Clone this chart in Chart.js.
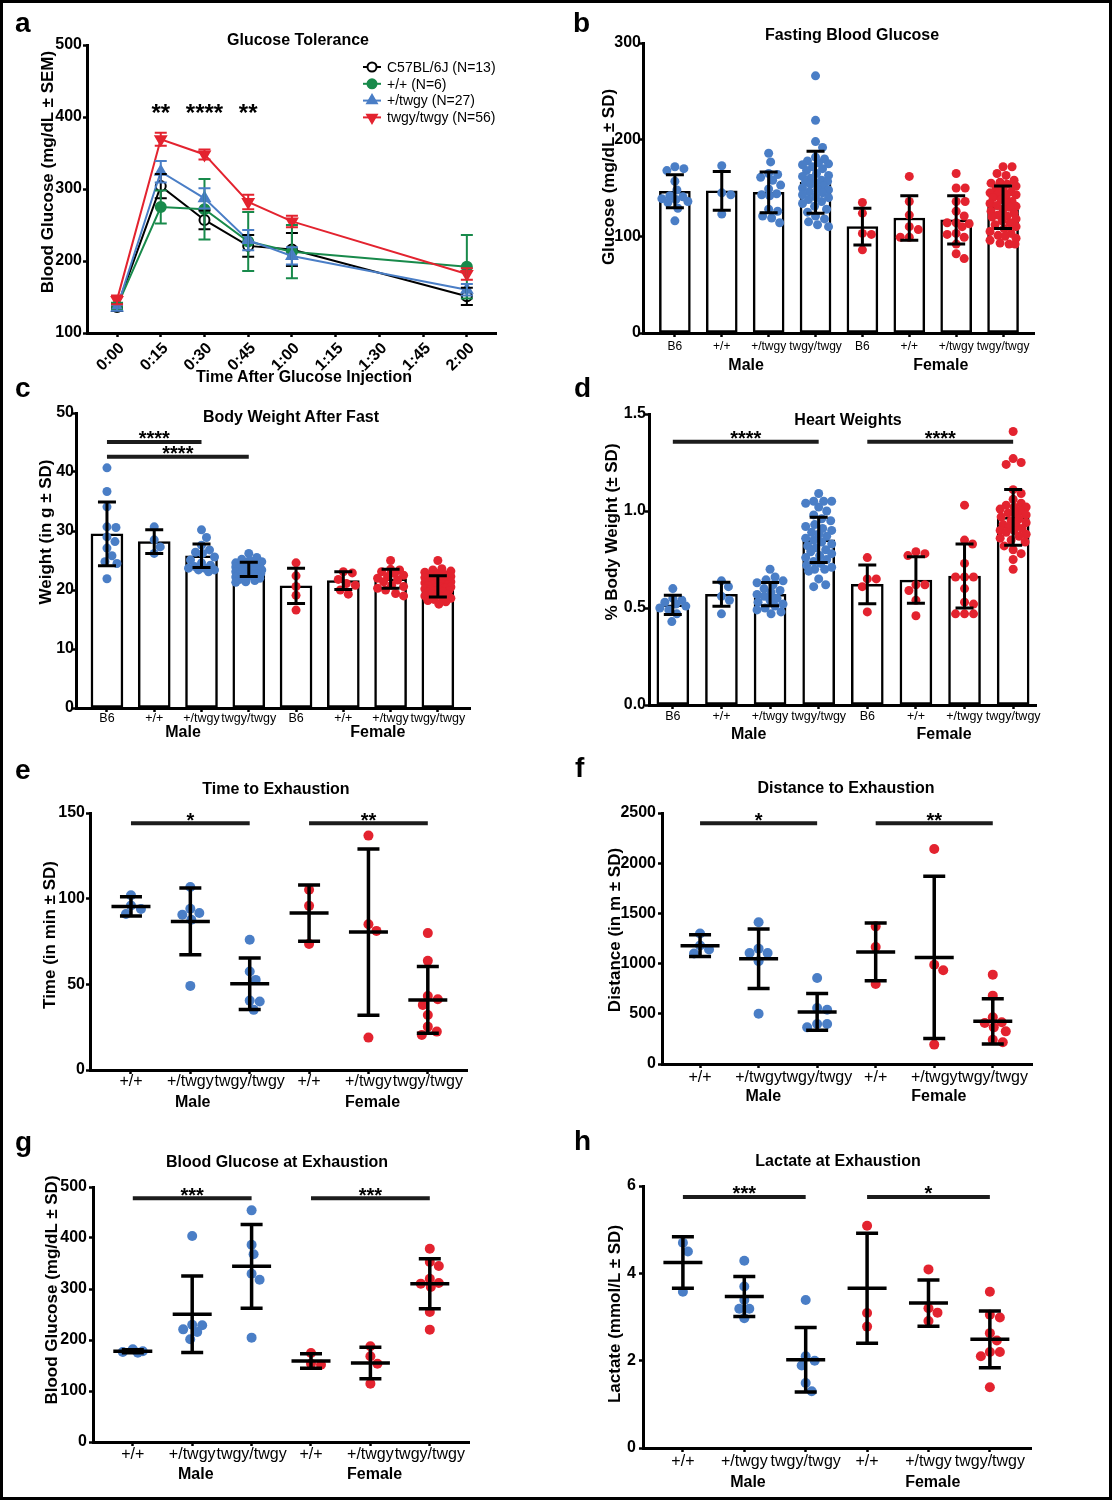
<!DOCTYPE html>
<html>
<head>
<meta charset="utf-8">
<title>twgy phenotype figure</title>
<script src="https://cdn.jsdelivr.net/npm/chart.js@4.4.1/dist/chart.umd.min.js"></script>
<style>
  html, body { margin: 0; padding: 0; background: #fff; }
  #fig { position: relative; width: 1112px; height: 1500px; background: #fff; overflow: hidden;
         font-family: "Liberation Sans", Arial, Helvetica, sans-serif; color: #000; }
  #fig canvas { position: absolute; }
  .lbl { position: absolute; white-space: nowrap; font-weight: bold; line-height: 1; transform: translate(-50%, -50%); }
  .rot { transform: translate(-50%, -50%) rotate(-90deg); }
  .letter { position: absolute; font-weight: bold; font-size: 28px; line-height: 28px; }
  #frame { position: absolute; left: 0; top: 0; width: 1112px; height: 1500px; box-sizing: border-box;
           border: 3px solid #000; pointer-events: none; }
</style>
</head>
<body>
<div id="fig"><div id="frame"></div></div>
<script>
// ---------- data ----------
// a: glucose tolerance (mean +/- SEM)
const gttTimes = [0, 15, 30, 45, 60, 120];
const gttTickVals = [0, 15, 30, 45, 60, 75, 90, 105, 120];
const gttTickLabels = ['0:00', '0:15', '0:30', '0:45', '1:00', '1:15', '1:30', '1:45', '2:00'];
const gttLabels = ['C57BL/6J (N=13)', '+/+ (N=6)', '+/twgy (N=27)', 'twgy/twgy (N=56)'];
const gttB6 = [136, 304, 257, 221, 216, 151];
const gttB6Sem = [5, 17, 13, 15, 23, 12];
const gttWT = [137, 275, 272, 227, 213, 192];
const gttWTSem = [5, 23, 42, 41, 37, 44];
const gttHet = [135, 324, 287, 229, 207, 160];
const gttHetSem = [4, 15, 14, 14, 12, 8];
const gttHom = [146, 369, 348, 282, 255, 182];
const gttHomSem = [6, 9, 7, 10, 8, 8];
const gttStars = [{ from: 15, to: 15, text: '**' }, { from: 30, to: 30, text: '****' }, { from: 45, to: 45, text: '**' }];

const barCats = ['B6', '+/+', '+/twgy', 'twgy/twgy', 'B6', '+/+', '+/twgy', 'twgy/twgy'];
const runCats = ['+/+', '+/twgy', 'twgy/twgy', '+/+', '+/twgy', 'twgy/twgy'];
const sexLabels = ['Male', 'Female'];

// b: fasting blood glucose
const fbgMean = [146.6, 147, 145.5, 156, 110, 119, 117, 130];
const fbgSD = [17, 20, 21, 32, 19, 23, 25, 22];
const fbgPts = [
  [172, 170, 168, 157, 148, 142, 141, 139, 138, 136, 135, 129, 116],
  [173, 145, 143, 123],
  [186, 177, 165, 164, 161, 158, 153, 149, 144, 143, 142, 128, 126, 121, 119, 114],
  [266, 220, 198, 192, 182, 180, 178, 176, 175, 174, 172, 170, 168, 165, 163, 162, 160, 158, 157, 156, 155,
   154, 152, 150, 149, 148, 146, 145, 143, 141, 140, 138, 136, 134, 131, 128, 125, 121, 118, 115, 112, 110],
  [135, 124, 103, 102, 86],
  [162, 136, 122, 110, 107, 99, 99],
  [165, 150, 150, 136, 136, 126, 121, 114, 114, 113, 110, 103, 102, 99, 92, 82, 77],
  [172, 172, 165, 163, 158, 156, 155, 154, 152, 150, 148, 146, 145, 144, 143, 142, 140, 138, 136, 135, 134,
   132, 131, 130, 128, 126, 124, 122, 121, 120, 118, 116, 114, 112, 110, 108, 105, 103, 101, 100, 98, 96, 93, 92, 92]
];

// c: body weight after fast
const bwMean = [29.5, 28.2, 25.8, 23.5, 20.7, 21.6, 21.9, 20.6];
const bwSD = [5.4, 2.0, 2.0, 1.2, 3.0, 1.5, 1.6, 1.8];
const bwPts = [
  [40.7, 36.7, 34.1, 30.7, 30.6, 29.0, 28.2, 27.1, 25.8, 24.8, 24.5, 21.9],
  [30.7, 28.5, 27.3, 26.2],
  [30.2, 28.9, 27.6, 26.8, 26.4, 26.2, 25.6, 25.1, 24.6, 24.2, 24.0, 23.7, 23.7, 23.4, 23.4, 23.1],
  [26.2, 25.5, 25.2, 25.0, 24.8, 24.6, 24.5, 24.4, 24.2, 24.1, 24.0, 23.9, 23.8, 23.7, 23.6, 23.5, 23.5, 23.4,
   23.3, 23.2, 23.1, 23.0, 23.0, 22.9, 22.8, 22.7, 22.6, 22.5, 22.4, 22.3, 22.2, 22.0, 21.8, 21.6, 21.4, 21.3],
  [24.6, 22.4, 20.6, 19.1, 16.6],
  [23.1, 22.9, 21.8, 21.1, 20.8, 20.0, 19.3],
  [25.0, 23.5, 23.4, 23.1, 22.8, 22.5, 22.3, 22.0, 21.7, 21.4, 20.8, 20.6, 20.3, 20.0, 19.4, 19.0],
  [25.0, 23.6, 23.4, 23.2, 23.0, 22.8, 22.6, 22.5, 22.3, 22.1, 22.0, 21.8, 21.7, 21.5, 21.4, 21.2, 21.1, 21.0,
   20.9, 20.8, 20.7, 20.6, 20.5, 20.4, 20.3, 20.2, 20.1, 20.0, 19.9, 19.8, 19.7, 19.6, 19.4, 19.3, 19.2, 19.0,
   18.8, 18.6, 18.4, 18.2, 18.0, 17.6]
];
const bwSig = [{ from: 0, to: 2, text: '****' }, { from: 0, to: 3, text: '****' }];

// d: heart weight (% body weight)
const hwMean = [0.516, 0.571, 0.571, 0.851, 0.622, 0.644, 0.665, 0.967];
const hwSD = [0.05, 0.062, 0.06, 0.117, 0.10, 0.12, 0.165, 0.144];
const hwPts = [
  [0.60, 0.55, 0.54, 0.53, 0.52, 0.51, 0.50, 0.49, 0.47, 0.43],
  [0.64, 0.61, 0.56, 0.54, 0.47],
  [0.70, 0.66, 0.645, 0.64, 0.63, 0.62, 0.60, 0.59, 0.58, 0.57, 0.56, 0.55, 0.54, 0.53, 0.52, 0.51, 0.50, 0.49, 0.48, 0.47],
  [1.09, 1.05, 1.05, 1.05, 1.04, 1.02, 1.00, 0.98, 0.96, 0.95, 0.93, 0.92, 0.91, 0.90, 0.89, 0.88, 0.87, 0.86,
   0.85, 0.84, 0.83, 0.82, 0.81, 0.80, 0.79, 0.78, 0.77, 0.76, 0.75, 0.74, 0.73, 0.72, 0.71, 0.70, 0.70, 0.69,
   0.65, 0.62, 0.61],
  [0.76, 0.65, 0.65, 0.61, 0.48],
  [0.79, 0.78, 0.77, 0.62, 0.62, 0.59, 0.54, 0.46],
  [1.03, 0.85, 0.83, 0.73, 0.66, 0.66, 0.66, 0.60, 0.53, 0.52, 0.47, 0.47, 0.47],
  [1.41, 1.27, 1.25, 1.24, 1.11, 1.09, 1.06, 1.04, 1.03, 1.02, 1.02, 1.01, 1.00, 0.99, 0.99, 0.98, 0.97, 0.96,
   0.95, 0.94, 0.93, 0.93, 0.92, 0.91, 0.90, 0.90, 0.89, 0.88, 0.87, 0.86, 0.85, 0.84, 0.82, 0.80, 0.78, 0.75, 0.70]
];
const hwSig = [{ from: 0, to: 3, text: '****' }, { from: 4, to: 7, text: '****' }];

// e: time to exhaustion
const tteMean = [95.5, 86.7, 50.3, 91.6, 80.5, 40.9];
const tteSD = [5.6, 19.5, 15, 16.4, 48.5, 19.5];
const ttePts = [
  [102, 96, 94, 91],
  [106.8, 94.1, 91.6, 90.6, 87.7, 49.1],
  [76, 57.5, 52.6, 40.5, 40.0, 35.1],
  [105.2, 95.8, 73.6],
  [136.8, 85.1, 81.2, 18.9],
  [79.9, 63.7, 43.2, 41.3, 38, 32.1, 25.3, 22.4, 20.5]
];
const tteSig = [{ from: 0, to: 2, text: '*' }, { from: 3, to: 5, text: '**' }];

// f: distance to exhaustion
const dteMean = [1179, 1049, 518, 1116, 1062, 425];
const dteSD = [109, 296, 183, 288, 807, 226];
const dtePts = [
  [1300, 1180, 1140, 1100],
  [1411, 1149, 1106, 1106, 1023, 501],
  [857, 558, 541, 398, 398, 365],
  [1371, 1165, 797],
  [2141, 989, 933, 193],
  [890, 681, 465, 415, 408, 365, 325, 242, 216]
];
const dteSig = [{ from: 0, to: 2, text: '*' }, { from: 3, to: 5, text: '**' }];

// g: blood glucose at exhaustion
const bgeMean = [177.8, 250.3, 344.4, 158.8, 154.9, 310.5];
const bgeSD = [3, 75, 82, 14.4, 31, 49];
const bgePts = [
  [181.7, 178, 176.5, 175.2],
  [403.9, 230, 228.8, 220.9, 215.7, 201.3],
  [454.2, 386.9, 368, 330, 318.3, 204.6],
  [174.5, 153.6, 151.6],
  [187.6, 168, 153.6, 114.4],
  [379, 353, 345, 320, 311.8, 310.5, 304, 254.9, 220.3]
];
const bgeSig = [{ from: 0, to: 2, text: '***' }, { from: 3, to: 5, text: '***' }];

// h: lactate at exhaustion
const lacMean = [4.25, 3.47, 2.02, 3.66, 3.32, 2.49];
const lacSD = [0.59, 0.46, 0.74, 1.26, 0.53, 0.65];
const lacPts = [
  [4.70, 4.50, 3.58],
  [4.29, 3.70, 3.39, 3.19, 3.19, 2.97],
  [3.39, 2.10, 2.00, 1.89, 1.49, 1.30],
  [5.09, 3.09, 2.78],
  [4.09, 3.20, 3.10, 2.91],
  [3.58, 3.05, 2.99, 2.63, 2.46, 2.20, 2.20, 2.10, 1.39]
];
const lacSig = [{ from: 0, to: 2, text: '***' }, { from: 3, to: 5, text: '*' }];

// ---------- setup ----------
const FONT = '"Liberation Sans", Arial, Helvetica, sans-serif';
const BLUE = '#4a7ec6', RED = '#e3232f', GREEN = '#188a4b';

Chart.defaults.font.family = FONT;
Chart.defaults.color = '#000';
Chart.defaults.animation = false;
Chart.defaults.responsive = false;
Chart.defaults.maintainAspectRatio = false;
Chart.defaults.events = [];
Chart.defaults.plugins.legend.display = false;
Chart.defaults.plugins.tooltip.enabled = false;

const fig = document.getElementById('fig');

const drawPoint = (Chart.helpers && Chart.helpers.drawPoint) || function (ctx, o, x, y) {
  ctx.beginPath();
  if (o.pointStyle === 'triangle') {
    const s = o.rotation ? -1 : 1, r = o.radius;
    ctx.moveTo(x, y - s * r);
    ctx.lineTo(x + r * 0.866, y + s * r / 2);
    ctx.lineTo(x - r * 0.866, y + s * r / 2);
    ctx.closePath();
  } else {
    ctx.arc(x, y, o.radius, 0, Math.PI * 2);
  }
  ctx.fill();
  if (o.borderWidth > 0) ctx.stroke();
};

// error bars for any dataset carrying an errorBars array
Chart.register({
  id: 'errorBars',
  afterDatasetsDraw(chart) {
    const ctx = chart.ctx, ys = chart.scales.y;
    chart.data.datasets.forEach((ds, i) => {
      if (!ds.errorBars) return;
      const meta = chart.getDatasetMeta(i);
      ctx.save();
      ctx.strokeStyle = ds.errorColor;
      ctx.lineWidth = ds.errorWidth;
      meta.data.forEach((el, j) => {
        const v = ds.data[j].y, e = ds.errorBars[j];
        const top = ys.getPixelForValue(v + e), bot = ys.getPixelForValue(v - e);
        const w = ds.errorCap / 2;
        ctx.beginPath();
        ctx.moveTo(el.x, top); ctx.lineTo(el.x, bot);
        ctx.moveTo(el.x - w, top); ctx.lineTo(el.x + w, top);
        ctx.moveTo(el.x - w, bot); ctx.lineTo(el.x + w, bot);
        ctx.stroke();
      });
      ctx.restore();
    });
  }
});

function sigPlugin(items, levels, size) {
  return {
    id: 'sigBars',
    afterDatasetsDraw(chart) {
      const ctx = chart.ctx, xs = chart.scales.x, ys = chart.scales.y;
      ctx.save();
      ctx.fillStyle = '#000';
      ctx.strokeStyle = '#1c1c1c';
      ctx.lineWidth = 4;
      ctx.font = 'bold ' + size + 'px ' + FONT;
      ctx.textAlign = 'center';
      ctx.textBaseline = 'alphabetic';
      items.forEach((s, k) => {
        const x1 = xs.getPixelForValue(s.from), x2 = xs.getPixelForValue(s.to);
        const y = ys.getPixelForValue(levels[k]);
        if (s.from !== s.to) {
          ctx.beginPath(); ctx.moveTo(x1, y); ctx.lineTo(x2, y); ctx.stroke();
        }
        ctx.fillText(s.text, (x1 + x2) / 2, y + 3.5);
      });
      ctx.restore();
    }
  };
}

function groupPlugin(texts, at, dy, size) {
  return {
    id: 'groupLabels',
    afterDraw(chart) {
      const ctx = chart.ctx, xs = chart.scales.x;
      ctx.save();
      ctx.fillStyle = '#000';
      ctx.font = 'bold ' + size + 'px ' + FONT;
      ctx.textAlign = 'center';
      ctx.textBaseline = 'middle';
      texts.forEach((t, k) => ctx.fillText(t, xs.getPixelForValue(at[k]), chart.chartArea.bottom + dy));
      ctx.restore();
    }
  };
}

function legendPlugin(x, y0, dy, size) {
  return {
    id: 'ptLegend',
    afterDraw(chart) {
      const ctx = chart.ctx;
      ctx.save();
      ctx.font = size + 'px ' + FONT;
      ctx.textAlign = 'left';
      ctx.textBaseline = 'middle';
      chart.data.datasets.forEach((ds, i) => {
        const y = y0 + i * dy;
        ctx.strokeStyle = ds.borderColor; ctx.lineWidth = 2;
        ctx.beginPath(); ctx.moveTo(x - 9, y); ctx.lineTo(x + 9, y); ctx.stroke();
        ctx.fillStyle = ds.pointBackgroundColor; ctx.strokeStyle = ds.pointBorderColor; ctx.lineWidth = ds.pointBorderWidth;
        drawPoint(ctx, { pointStyle: ds.pointStyle, radius: ds.pointRadius - 0.5, rotation: ds.pointRotation || 0,
                         borderWidth: ds.pointBorderWidth }, x, y);
        ctx.fillStyle = '#000';
        ctx.fillText(ds.label, x + 15, y + 1);
      });
      ctx.restore();
    }
  };
}

// ---------- layout helpers ----------
function G(cx, cy, cw, ch, l, t, r, b) { return { cx, cy, cw, ch, l, t, r, b }; }

function makeCanvas(g) {
  const c = document.createElement('canvas');
  c.width = g.cw; c.height = g.ch;
  c.style.left = g.cx + 'px'; c.style.top = g.cy + 'px';
  c.style.width = g.cw + 'px'; c.style.height = g.ch + 'px';
  fig.insertBefore(c, document.getElementById('frame'));
  return c;
}

function layoutFor(g) {
  return { padding: { left: 0, top: g.t - g.cy, right: g.cx + g.cw - g.r, bottom: 0 } };
}

const axisGrid = { offset: false, drawOnChartArea: false, drawTicks: true, tickLength: 4, tickWidth: 2.5, tickColor: '#000' };
const axisBorder = { display: true, color: '#000', width: 3 };

function yAxis(g, yr, step, pad, fmt) {
  return {
    type: 'linear', min: yr[0], max: yr[1],
    ticks: { stepSize: step, color: '#000', padding: pad, font: { size: 16, weight: 'bold' },
             callback: fmt || (v => String(v)) },
    grid: axisGrid, border: axisBorder,
    afterFit(s) { s.width = g.l - g.cx; }
  };
}

function xTicks(g, xr, vals, labels, font, pad, rot, shift) {
  return {
    type: 'linear', min: xr[0], max: xr[1], offset: false,
    afterBuildTicks(s) { s.ticks = vals.map(v => ({ value: v })); },
    ticks: { autoSkip: false, minRotation: rot, maxRotation: rot, color: '#000', padding: pad, font,
             labelOffset: shift || 0, callback: (v, i) => labels[i] },
    grid: axisGrid, border: axisBorder,
    afterFit(s) { s.height = g.cy + g.ch - g.b; }
  };
}

// beeswarm-style horizontal spread of the dots, in pixel units, converted back to axis units
function swarm(p, keep) {
  const pxX = (p.g.r - p.g.l) / (p.xr[1] - p.xr[0]);
  const pxY = (p.g.b - p.g.t) / (p.yr[1] - p.yr[0]);
  const D = 2 * p.r * 0.98;
  const out = [];
  p.pts.forEach((vals, cat) => {
    if (!keep(cat)) return;
    const placed = [];
    vals.map((v, i) => i).sort((a, b) => vals[b] - vals[a]).forEach(i => {
      const py = vals[i] * pxY;
      let best = 0, bestD = -1;
      for (let k = 0; k <= 2 * p.spread; k++) {
        const dx = k % 2 ? (k + 1) / 2 : -k / 2;
        let dmin = Infinity;
        for (const q of placed) dmin = Math.min(dmin, Math.hypot(dx - q[0], py - q[1]));
        if (dmin >= D) { best = dx; break; }
        if (dmin > bestD) { bestD = dmin; best = dx; }
      }
      placed.push([best, py]);
      out.push({ x: cat + best / pxX, y: vals[i] });
    });
  });
  return out;
}

function dotPanel(p) {
  const half = p.cats.length / 2;
  const idx = p.cats.map((c, i) => i);
  const meanData = p.means.map((m, i) => ({ x: i, y: m }));
  const ds = [
    { data: swarm(p, c => c < half), pointRadius: p.r, pointBackgroundColor: BLUE, pointBorderWidth: 0, order: 1 },
    { data: swarm(p, c => c >= half), pointRadius: p.r, pointBackgroundColor: RED, pointBorderWidth: 0, order: 1 }
  ];
  if (p.barWidth) {
    ds.push({ type: 'bar', data: meanData, backgroundColor: '#fff', borderColor: '#000', borderWidth: 2.5,
              borderSkipped: false, barThickness: p.barWidth, order: 2,
              errorBars: p.sds, errorCap: 18, errorWidth: 3, errorColor: '#000' });
  } else {
    ds.push({ data: meanData, pointStyle: 'line', pointRadius: 19.5, pointBorderWidth: 3.5,
              pointBorderColor: '#000', pointBackgroundColor: '#000', order: 0,
              errorBars: p.sds, errorCap: 22, errorWidth: 3.5, errorColor: '#000' });
  }
  return new Chart(makeCanvas(p.g), {
    type: 'scatter',
    data: { datasets: ds },
    options: {
      layout: layoutFor(p.g),
      scales: {
        x: xTicks(p.g, p.xr, idx, p.cats, p.tickFont, p.tickPad, 0),
        y: yAxis(p.g, p.yr, p.step, p.yPad, p.yFmt)
      }
    },
    plugins: [sigPlugin(p.sig, p.sigLevels, 20), groupPlugin(sexLabels, p.groupAt, p.groupDy, 16)]
  });
}

// ---------- panel a ----------
const gA = G(0, 0, 556, 390, 87, 45, 496, 333);
function gttSeries(label, vals, sem, color, style, rot, fill, radius, order) {
  return {
    label, order,
    data: gttTimes.map((t, i) => ({ x: t, y: vals[i] })),
    showLine: true, borderColor: color, borderWidth: 2, backgroundColor: fill,
    pointStyle: style, pointRotation: rot, pointRadius: radius,
    pointBackgroundColor: fill, pointBorderColor: color, pointBorderWidth: 2,
    errorBars: sem, errorCap: 12, errorWidth: 2, errorColor: color
  };
}
new Chart(makeCanvas(gA), {
  type: 'scatter',
  data: {
    datasets: [
      gttSeries(gttLabels[0], gttB6, gttB6Sem, '#000', 'circle', 0, '#fff', 5, 4),
      gttSeries(gttLabels[1], gttWT, gttWTSem, GREEN, 'circle', 0, GREEN, 5, 3),
      gttSeries(gttLabels[2], gttHet, gttHetSem, BLUE, 'triangle', 0, BLUE, 6, 2),
      gttSeries(gttLabels[3], gttHom, gttHomSem, RED, 'triangle', 180, RED, 6, 1)
    ]
  },
  options: {
    layout: layoutFor(gA),
    scales: {
      x: xTicks(gA, [-10.3, 130], gttTickVals, gttTickLabels, { size: 16, weight: 'bold' }, 2, 45, 5),
      y: yAxis(gA, [100, 500], 100, 1)
    }
  },
  plugins: [legendPlugin(372, 67, 16.8, 14), sigPlugin(gttStars, [400, 400, 400], 24)]
});

// ---------- panels b-h ----------
const bTick = { size: 12, lineHeight: 1 };
const smallTick = { size: 12.5, lineHeight: 1 };
const bigTick = { size: 16, lineHeight: 1 };

dotPanel({ g: G(556, 0, 556, 390, 643, 43, 1034, 333), xr: [-0.68, 7.66], yr: [0, 300], step: 100, yPad: -2,
  cats: barCats, means: fbgMean, sds: fbgSD, pts: fbgPts, barWidth: 31, tickFont: bTick, tickPad: 4,
  r: 4.5, spread: 13, sig: [], sigLevels: [], groupAt: [1.52, 5.67], groupDy: 33 });

dotPanel({ g: G(0, 390, 556, 360, 76, 413, 470, 708), xr: [-0.655, 7.68], yr: [0, 50], step: 10, yPad: -2,
  cats: barCats, means: bwMean, sds: bwSD, pts: bwPts, barWidth: 32, tickFont: smallTick, tickPad: 0,
  r: 4.5, spread: 13, sig: bwSig, sigLevels: [45.1, 42.6], groupAt: [1.61, 5.73], groupDy: 25 });

dotPanel({ g: G(556, 390, 556, 360, 649, 414, 1036, 705), xr: [-0.49, 7.47], yr: [0, 1.5], step: 0.5, yPad: -1,
  yFmt: v => v.toFixed(1),
  cats: barCats, means: hwMean, sds: hwSD, pts: hwPts, barWidth: 32, tickFont: smallTick, tickPad: 1,
  r: 4.5, spread: 13, sig: hwSig, sigLevels: [1.357, 1.357], groupAt: [1.56, 5.58], groupDy: 30 });

dotPanel({ g: G(0, 750, 556, 375, 90, 813, 467, 1070), xr: [-0.69, 5.66], yr: [0, 150], step: 50, yPad: 1,
  cats: runCats, means: tteMean, sds: tteSD, pts: ttePts, tickFont: bigTick, tickPad: 0,
  r: 5, spread: 15, sig: tteSig, sigLevels: [144, 144], groupAt: [1.04, 4.07], groupDy: 33 });

dotPanel({ g: G(556, 750, 556, 375, 662, 813, 1032, 1064), xr: [-0.65, 5.67], yr: [0, 2500], step: 500, yPad: 2,
  cats: runCats, means: dteMean, sds: dteSD, pts: dtePts, tickFont: bigTick, tickPad: 2,
  r: 5, spread: 15, sig: dteSig, sigLevels: [2397, 2397], groupAt: [1.08, 4.08], groupDy: 33 });

dotPanel({ g: G(0, 1125, 556, 375, 93, 1187, 469, 1442), xr: [-0.67, 5.66], yr: [0, 500], step: 100, yPad: 2,
  cats: runCats, means: bgeMean, sds: bgeSD, pts: bgePts, tickFont: bigTick, tickPad: 1,
  r: 5, spread: 15, sig: bgeSig, sigLevels: [478, 478], groupAt: [1.06, 4.07], groupDy: 33 });

dotPanel({ g: G(556, 1125, 556, 375, 643, 1186, 1031, 1448), xr: [-0.65, 5.67], yr: [0, 6], step: 2, yPad: 3,
  cats: runCats, means: lacMean, sds: lacSD, pts: lacPts, tickFont: bigTick, tickPad: 2,
  r: 5, spread: 15, sig: lacSig, sigLevels: [5.75, 5.75], groupAt: [1.06, 4.07], groupDy: 35 });

// ---------- text: panel letters, titles, axis titles ----------
function label(text, x, y, size, rotate) {
  const d = document.createElement('div');
  d.className = 'lbl' + (rotate ? ' rot' : '');
  d.style.left = x + 'px'; d.style.top = y + 'px'; d.style.fontSize = size + 'px';
  d.textContent = text;
  fig.insertBefore(d, document.getElementById('frame'));
}
function letter(text, x, baseline) {
  const d = document.createElement('div');
  d.className = 'letter';
  d.style.left = x + 'px'; d.style.top = (baseline - 23.7) + 'px';
  d.textContent = text;
  fig.insertBefore(d, document.getElementById('frame'));
}

[['a', 15, 33], ['b', 573, 33], ['c', 15, 398], ['d', 574, 398],
 ['e', 15, 780], ['f', 575, 778], ['g', 15, 1152], ['h', 574, 1151]].forEach(a => letter(a[0], a[1], a[2]));

[['Glucose Tolerance', 298, 40], ['Fasting Blood Glucose', 852, 35],
 ['Body Weight After Fast', 291, 417], ['Heart Weights', 848, 420],
 ['Time to Exhaustion', 276, 789], ['Distance to Exhaustion', 846, 788],
 ['Blood Glucose at Exhaustion', 277, 1162], ['Lactate at Exhaustion', 838, 1161]].forEach(t => label(t[0], t[1], t[2], 16, false));

[['Blood Glucose (mg/dL \u00b1 SEM)', 47, 172], ['Glucose (mg/dL \u00b1 SD)', 608, 177],
 ['Weight (in g \u00b1 SD)', 45, 532], ['% Body Weight (\u00b1 SD)', 611, 532],
 ['Time (in min \u00b1 SD)', 49, 935], ['Distance (in m \u00b1 SD)', 614, 930],
 ['Blood Glucose (mg/dL \u00b1 SD)', 51, 1290], ['Lactate (mmol/L \u00b1 SD)', 614, 1314]].forEach(t => label(t[0], t[1], t[2], 17, true));

label('Time After Glucose Injection', 304, 377, 16, false);
</script>
</body>
</html>
